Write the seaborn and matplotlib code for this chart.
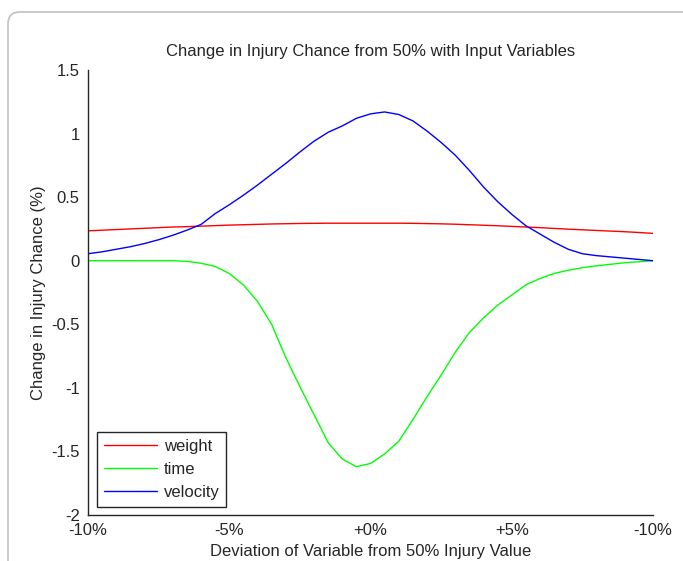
import numpy as np
import pandas as pd
import matplotlib
matplotlib.use("Agg")
import matplotlib.pyplot as plt
import seaborn as sns
from matplotlib.patches import FancyBboxPatch
from matplotlib.transforms import IdentityTransform

# deviation of each input variable (percent), every 0.5
deviation = np.arange(-10, 10.5, 0.5)

weight = [0.235, 0.24, 0.245, 0.25, 0.255, 0.26, 0.265, 0.268, 0.272, 0.276,
          0.28, 0.283, 0.286, 0.289, 0.291, 0.293, 0.294, 0.295, 0.295, 0.295,
          0.295, 0.295, 0.295, 0.294, 0.292, 0.29, 0.287, 0.283, 0.279, 0.275,
          0.27, 0.265, 0.26, 0.254, 0.248, 0.243, 0.238, 0.233, 0.228, 0.222,
          0.215]

time = [0.0, 0.0, 0.0, 0.0, 0.0, 0.0, 0.0, -0.005, -0.02, -0.045,
        -0.10, -0.19, -0.32, -0.50, -0.76, -0.99, -1.21, -1.43, -1.56, -1.62,
        -1.595, -1.52, -1.42, -1.25, -1.07, -0.90, -0.72, -0.565, -0.45, -0.35,
        -0.27, -0.19, -0.14, -0.10, -0.075, -0.055, -0.04, -0.028, -0.016, -0.008,
        0.0]

velocity = [0.055, 0.07, 0.09, 0.11, 0.135, 0.165, 0.20, 0.24, 0.285, 0.37,
            0.44, 0.515, 0.595, 0.68, 0.765, 0.855, 0.94, 1.01, 1.06, 1.12,
            1.155, 1.17, 1.15, 1.10, 1.02, 0.93, 0.83, 0.71, 0.58, 0.465,
            0.365, 0.275, 0.21, 0.145, 0.09, 0.055, 0.04, 0.03, 0.02, 0.01,
            0.0]

x_ticks = [-10, -5, 0, 5, 10]
x_tick_labels = ['-10%', '-5%', '+0%', '+5%', '-10%']
y_ticks = [1.5, 1, 0.5, 0, -0.5, -1, -1.5, -2]
y_tick_labels = ['1.5', '1', '0.5', '0', '-0.5', '-1', '-1.5', '-2']

df = pd.DataFrame({'deviation': deviation, 'weight': weight,
                   'time': time, 'velocity': velocity})
long_df = df.melt(id_vars='deviation', var_name='variable', value_name='change')

sns.set_style("white")
plt.rcParams['font.family'] = ['Liberation Sans', 'DejaVu Sans']
plt.rcParams['xtick.direction'] = 'in'
plt.rcParams['ytick.direction'] = 'in'

fig = plt.figure(figsize=(6.83, 5.61), dpi=100)
ax = fig.add_axes([88 / 683, 1 - 515 / 561, (653 - 88) / 683, (515 - 70) / 561])

sns.lineplot(data=long_df, x='deviation', y='change', hue='variable',
             palette={'weight': '#ff0000', 'time': '#00ff00', 'velocity': '#0000ff'},
             linewidth=1, ax=ax)

ax.set_xlim(-10, 10)
ax.set_ylim(-2, 1.5)
ax.set_xticks(x_ticks)
ax.set_xticklabels(x_tick_labels)
ax.set_yticks(y_ticks)
ax.set_yticklabels(y_tick_labels)
ax.tick_params(axis='both', length=5, width=1, colors='#262626', labelsize=12)
ax.tick_params(axis='x', pad=6)
ax.tick_params(axis='y', pad=6)
ax.spines['top'].set_visible(False)
ax.spines['right'].set_visible(False)
for s in ['left', 'bottom']:
    ax.spines[s].set_color('#262626')
    ax.spines[s].set_linewidth(1)

ax.set_title('Change in Injury Chance from 50% with Input Variables',
             fontsize=12, color='#262626', pad=10)
ax.set_xlabel('Deviation of Variable from 50% Injury Value', fontsize=12,
              color='#262626', labelpad=4)
ax.set_ylabel('Change in Injury Chance (%)', fontsize=12, color='#262626', labelpad=4)

leg = ax.legend(loc='lower left', bbox_to_anchor=(0.016, 0.018), borderaxespad=0,
                frameon=True, fancybox=False, framealpha=1, edgecolor='#262626',
                fontsize=12, handlelength=3.2, handletextpad=0.4, labelspacing=0.5,
                borderpad=0.4, title=None)
leg.get_frame().set_linewidth(1)

# light rounded frame around the screenshot (top and left edges only visible)
frame = FancyBboxPatch((8, -50), 720, 561 - 12 + 50,
                       boxstyle="round,pad=0,rounding_size=12",
                       transform=IdentityTransform(), facecolor='none',
                       edgecolor='#c0c0c0', linewidth=1.2)
fig.patches.append(frame)

fig.savefig('out.png', dpi=100)
